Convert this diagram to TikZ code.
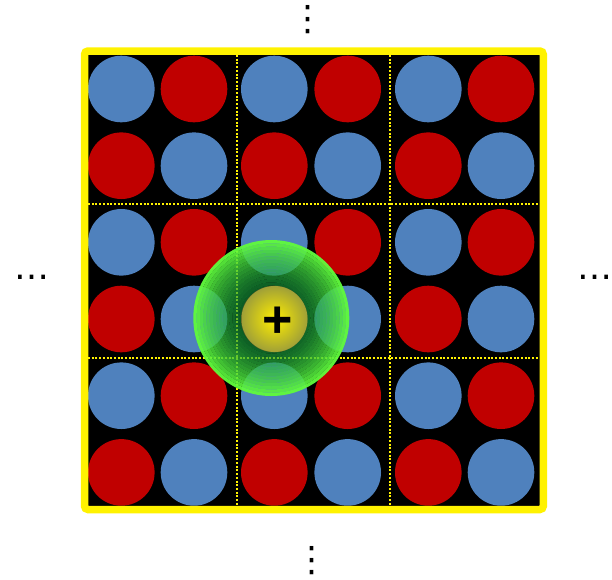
\documentclass[tikz,border=0pt]{standalone}
\usepackage{fontspec}
\newfontfamily\dejavu{DejaVu Sans}
\newfontfamily\arialb{Liberation Sans}[BoldFont={Liberation Sans Bold}]
\definecolor{cblue}{RGB}{79,129,189}
\definecolor{cred}{RGB}{192,0,0}
\definecolor{gdark}{RGB}{0,122,58}
\definecolor{glight}{RGB}{100,255,60}
\definecolor{yin}{RGB}{255,238,0}
\definecolor{yout}{RGB}{160,160,55}
\tikzset{
  disc/.style={fill=#1},
  gridline/.style={yellow, line width=2pt, dash pattern=on 2pt off 1.7pt},
  framebox/.style={yellow, line width=7.5pt, rounded corners=3.5pt},
  dots/.style={font=\dejavu\fontsize{35}{35}\selectfont, inner sep=0pt}
}
\begin{document}
\begin{tikzpicture}[x=1pt,y=-1pt]
\useasboundingbox (0,0) rectangle (612,579);
% background
\fill[black] (84.5,51) rectangle (543.3,509.5);
% circles
\def\xs{{121.3,194,274.3,347.7,428.3,501}}
\def\ys{{89,165.7,242.3,319,395.7,472.4}}
\foreach \r in {0,...,5}{
  \foreach \c in {0,...,5}{
    \pgfmathsetmacro\cx{\xs[\c]}
    \pgfmathsetmacro\cy{\ys[\r]}
    \pgfmathtruncatemacro\parity{mod(\r+\c,2)}
    \ifnum\parity=0
      \fill[disc=cblue] (\cx,\cy) circle (33.3);
    \else
      \fill[disc=cred] (\cx,\cy) circle (33.3);
    \fi
  }
}
% dotted grid lines
\draw[gridline] (237.3,55) -- (237.3,505.7);
\draw[gridline] (390,55) -- (390,505.7);
\draw[gridline] (88,204.3) -- (539.3,204.3);
\draw[gridline] (88,358.3) -- (539.3,358.3);
% frame
\draw[framebox] (84.5,51) rectangle (543.3,509.5);
% translucent sphere
\foreach \i in {1,...,24}{
  \pgfmathsetmacro\ro{78*\i/24}
  \pgfmathsetmacro\ri{78*(\i-1)/24}
  \pgfmathsetmacro\t{((\i-0.5)/24)^1.8}
  \pgfmathsetmacro\pc{100*\t}
  \pgfmathsetmacro\op{0.55+0.42*\t}
  \fill[glight!\pc!gdark, fill opacity=\op, even odd rule]
    (271.3,318) circle (\ro) circle (\ri);
}
% inner yellow ball
\shade[inner color=yin, outer color=yout] (274.5,319) circle (33);
\node[font=\arialb\bfseries\fontsize{52}{52}\selectfont, inner sep=0pt] (plus) at (278,322) {+};
% ellipses
\node[dots] (topdots) at (308.3,19.2) {⋮};
\node[dots] (botdots) at (311.7,560.7) {⋮};
\node[dots] (leftdots) at (32.3,277.8) {…};
\node[dots] (rightdots) at (595,277.8) {…};
\end{tikzpicture}
\end{document}
